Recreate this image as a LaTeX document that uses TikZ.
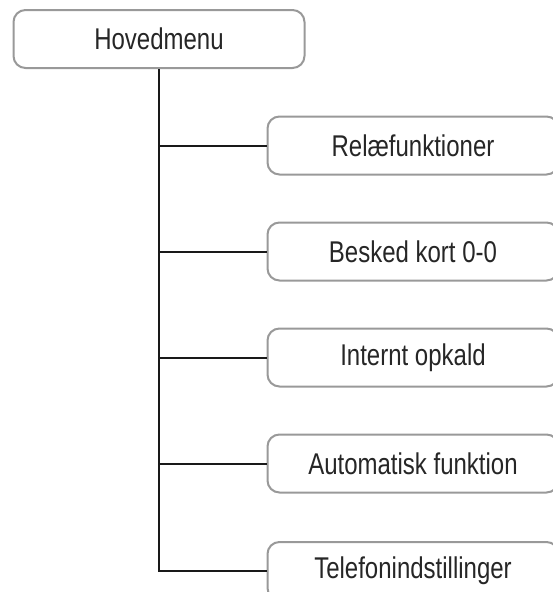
\documentclass[tikz,border=0pt]{standalone}
\usepackage{fontspec}
\setmainfont{Liberation Sans}[FakeStretch=0.8]
\usetikzlibrary{positioning}

\begin{document}
\begin{tikzpicture}[
  x=1pt, y=-1pt,
  font=\fontsize{30}{34}\selectfont,
  menubox/.style={rectangle, rounded corners=12pt, draw=gray!80, line width=2pt, fill=white, text=black!85, inner sep=0pt, minimum width=291pt, minimum height=58pt},
  link/.style={line width=2pt, draw=black!90}
]
\useasboundingbox (0,0) rectangle (552,592);

% Top menu
\node[menubox] (main) at (159,39) {Hovedmenu};

% Sub menus
\node[menubox] (relay) at (413,145.5) {Relæfunktioner};
\node[menubox] (msg) at (413,251.5) {Besked kort 0-0};
\node[menubox] (call) at (413,357.5) {Internt opkald};
\node[menubox] (auto) at (413,463.5) {Automatisk funktion};
\node[menubox] (phone) at (413,571) {Telefonindstillinger};

% Connections
\draw[link] (main.south) |- (phone.west);
\foreach \sub in {relay,msg,call,auto}
  \draw[link] (main.south |- \sub.west) -- (\sub.west);

\end{tikzpicture}
\end{document}
